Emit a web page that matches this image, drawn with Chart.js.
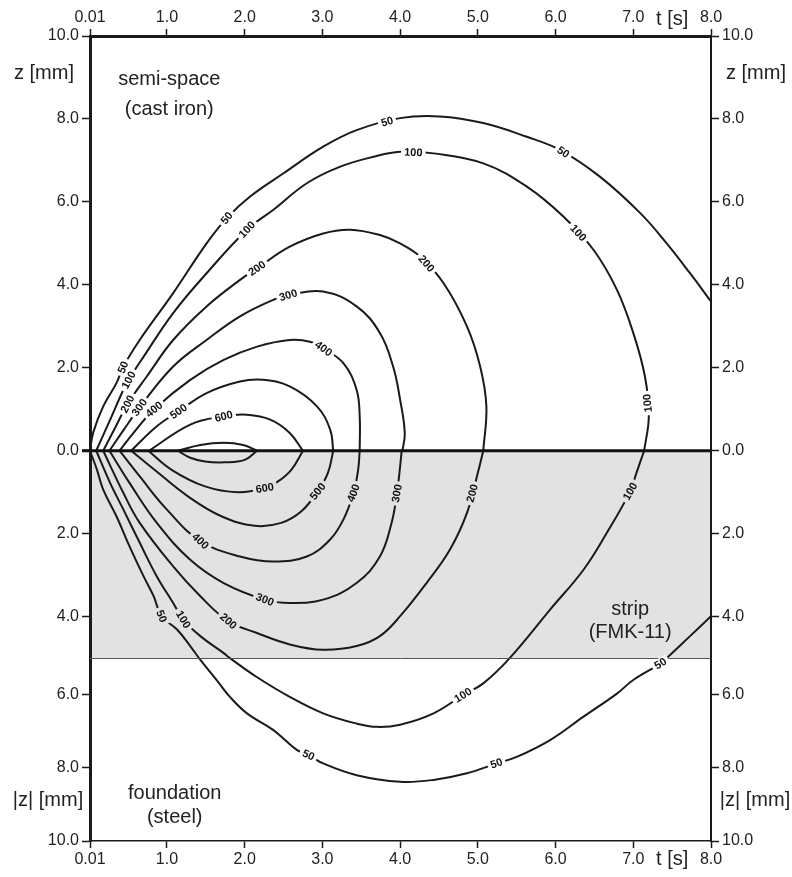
<!DOCTYPE html>
<html>
<head>
<meta charset="utf-8">
<title>Temperature contours</title>
<script src="https://cdn.jsdelivr.net/npm/chart.js@4.4.1/dist/chart.umd.min.js"></script>
<style>
  html, body { margin: 0; padding: 0; background: #fff; }
  #chart { display: block; }
</style>
</head>
<body>
<canvas id="chart" width="792" height="877"></canvas>
<script>
// axis ticks
const tTicks = [0.01, 1, 2, 3, 4, 5, 6, 7, 8];
const zTicks = [10, 8, 6, 4, 2, 0, -2, -4, -6, -8, -10];

// isotherms, [t s, z mm]; z < 0 is inside strip / foundation
const c50Up = [[0.01,0],[0.05,0.43],[0.18,1.07],[0.35,1.63],[0.44,2.03],[0.65,2.67],[1.08,3.80],[1.51,5.00],[1.77,5.61],[2.07,6.13],[2.50,6.69],[3.01,7.33],[3.44,7.73],[4.0,8.02],[4.51,8.06],[5.07,7.90],[5.63,7.57],[6.06,7.25],[6.57,6.61],[7.09,5.73],[7.43,5.00],[7.73,4.28],[8.0,3.60]];
const c100Up = [[0.09,0],[0.27,0.75],[0.44,1.47],[0.52,1.75],[0.70,2.27],[1.08,3.32],[1.51,4.28],[2.03,5.33],[2.37,5.81],[2.80,6.45],[3.23,6.85],[3.66,7.09],[4.0,7.21],[4.43,7.17],[5.07,6.93],[5.63,6.37],[6.10,5.65],[6.49,4.84],[6.79,3.88],[7.00,2.84],[7.15,1.79],[7.20,0.83],[7.14,0]];
const c200Up = [[0.18,0],[0.34,0.58],[0.50,1.15],[0.74,1.79],[1.08,2.67],[1.51,3.48],[1.94,4.12],[2.16,4.40],[2.58,4.92],[3.01,5.24],[3.36,5.33],[3.74,5.20],[4.0,5.0],[4.26,4.68],[4.56,4.04],[4.86,3.0],[5.03,2.03],[5.11,1.07],[5.07,0]];
const c300Up = [[0.26,0],[0.45,0.52],[0.65,1.05],[1.08,2.03],[1.51,2.67],[1.94,3.24],[2.37,3.64],[2.58,3.76],[3.01,3.84],[3.44,3.48],[3.74,2.84],[3.91,2.03],[4.0,1.23],[4.06,0.43],[4.03,0]];
const c400Up = [[0.39,0],[0.57,0.43],[0.83,0.99],[1.30,1.71],[1.73,2.19],[2.16,2.51],[2.58,2.67],[2.84,2.63],[3.01,2.47],[3.27,2.11],[3.44,1.47],[3.48,0.83],[3.48,0]];
const c500Up = [[0.54,0],[0.87,0.59],[1.15,0.95],[1.51,1.39],[1.94,1.67],[2.24,1.71],[2.58,1.55],[2.93,1.07],[3.10,0.51],[3.14,0]];
const c600Up = [[0.77,0],[1.30,0.63],[1.73,0.83],[2.03,0.87],[2.33,0.75],[2.58,0.43],[2.75,0]];
const c700Up = [[1.14,0],[1.43,0.14],[1.73,0.19],[1.98,0.14],[2.16,0]];

const c50Dn = [[0.01,0],[0.10,-0.46],[0.18,-0.94],[0.35,-1.58],[0.52,-2.31],[0.70,-3.03],[0.83,-3.51],[0.93,-3.99],[1.13,-4.31],[1.30,-4.71],[1.43,-5.05],[1.64,-5.60],[1.81,-6.06],[2.03,-6.51],[2.37,-6.97],[2.67,-7.51],[2.82,-7.65],[3.01,-7.88],[3.44,-8.20],[4.0,-8.38],[4.43,-8.33],[4.86,-8.15],[5.24,-7.88],[5.50,-7.70],[5.93,-7.24],[6.36,-6.60],[6.79,-5.97],[7.0,-5.60],[7.35,-5.15],[7.43,-5.0],[7.73,-4.47],[8.0,-3.99]];
const c100Dn = [[0.09,0],[0.27,-0.78],[0.44,-1.42],[0.65,-2.22],[0.87,-3.03],[1.08,-3.67],[1.21,-4.07],[1.43,-4.47],[1.73,-4.88],[1.81,-5.0],[2.15,-5.51],[2.58,-6.06],[3.01,-6.51],[3.44,-6.79],[3.70,-6.88],[4.0,-6.82],[4.43,-6.51],[4.81,-6.01],[5.07,-5.69],[5.41,-5.0],[5.93,-3.83],[6.36,-2.87],[6.66,-1.98],[6.96,-0.98],[7.04,-0.54],[7.14,0]];
const c200Dn = [[0.18,0],[0.44,-1.02],[0.65,-1.74],[1.08,-2.79],[1.43,-3.51],[1.79,-4.11],[2.15,-4.39],[2.58,-4.67],[3.01,-4.80],[3.44,-4.71],[3.74,-4.47],[4.0,-3.99],[4.34,-3.19],[4.64,-2.39],[4.86,-1.50],[5.01,-0.46],[5.07,0]];
const c300Dn = [[0.26,0],[0.52,-0.78],[0.87,-1.74],[1.30,-2.63],[1.73,-3.19],[2.26,-3.59],[2.58,-3.67],[3.01,-3.59],[3.44,-3.19],[3.74,-2.55],[3.89,-1.74],[3.96,-1.02],[4.0,-0.38],[4.02,0]];
const c400Dn = [[0.39,0],[0.65,-0.62],[1.00,-1.42],[1.43,-2.18],[1.94,-2.55],[2.37,-2.67],[2.80,-2.55],[3.10,-2.14],[3.27,-1.66],[3.40,-1.02],[3.46,-0.46],[3.48,0]];
const c500Dn = [[0.54,0],[0.84,-0.46],[1.27,-1.10],[1.70,-1.58],[2.13,-1.81],[2.47,-1.74],[2.73,-1.46],[2.94,-0.98],[3.07,-0.54],[3.14,0]];
const c600Dn = [[0.76,0],[1.06,-0.46],[1.49,-0.86],[1.91,-1.0],[2.26,-0.90],[2.43,-0.74],[2.60,-0.46],[2.75,0]];
const c700Dn = [[1.14,0],[1.30,-0.17],[1.49,-0.26],[1.74,-0.28],[2.0,-0.22],[2.16,0]];

// inline labels: series, t, z, text
const contourLabels = [
  ['c50Up',0.45,2.0,'50'],['c50Up',1.77,5.61,'50'],['c50Up',3.83,7.95,'50'],['c50Up',6.10,7.2,'50'],
  ['c100Up',0.51,1.70,'100'],['c100Up',2.03,5.33,'100'],['c100Up',4.17,7.2,'100'],['c100Up',6.29,5.25,'100'],['c100Up',7.19,1.15,'100'],
  ['c200Up',0.50,1.12,'200'],['c200Up',2.16,4.40,'200'],['c200Up',4.36,4.55,'200'],
  ['c300Up',0.64,1.05,'300'],['c300Up',2.56,3.75,'300'],
  ['c400Up',0.85,0.96,'400'],['c400Up',3.01,2.45,'400'],
  ['c500Up',1.15,0.95,'500'],
  ['c600Up',1.73,0.83,'600'],
  ['c600Dn',2.26,-0.92,'600'],['c500Dn',2.94,-0.98,'500'],
  ['c400Dn',1.43,-2.18,'400'],['c400Dn',3.40,-1.02,'400'],
  ['c300Dn',2.26,-3.59,'300'],['c300Dn',3.93,-1.02,'300'],
  ['c200Dn',1.79,-4.11,'200'],['c200Dn',4.92,-1.02,'200'],
  ['c100Dn',1.21,-4.07,'100'],['c100Dn',4.81,-6.01,'100'],['c100Dn',6.96,-0.98,'100'],
  ['c50Dn',0.93,-3.99,'50'],['c50Dn',2.82,-7.65,'50'],['c50Dn',5.24,-7.88,'50'],['c50Dn',7.35,-5.15,'50']
];

const series = { c50Up, c100Up, c200Up, c300Up, c400Up, c500Up, c600Up, c700Up,
                 c50Dn, c100Dn, c200Dn, c300Dn, c400Dn, c500Dn, c600Dn, c700Dn };
const seriesNames = Object.keys(series);

// foundation (below -5 mm) is drawn on a tighter vertical scale
const STRIP = -5;
const K = 0.882;
function toU(z) { return z >= STRIP ? z : STRIP + (z - STRIP) * K; }
function fromU(u) { return u >= STRIP ? u : STRIP + (u - STRIP) / K; }

const FONT = '"Liberation Sans", Arial, sans-serif';
const INK = '#1a1a1a';

const datasets = seriesNames.map(name => ({
  label: name,
  data: series[name].map(([t, z]) => ({ x: t, y: toU(z) })),
  showLine: true,
  borderColor: INK,
  borderWidth: 2,
  pointRadius: 0,
  tension: 0.4,
  xAxisID: 'x',
  yAxisID: 'y'
}));

function xAxis(pos, borderWidth) {
  return {
    type: 'linear', position: pos, min: 0.01, max: 8,
    afterBuildTicks: s => { s.ticks = tTicks.map(v => ({ value: v })); },
    afterFit: s => { s.height = 36; },
    ticks: {
      autoSkip: false, maxRotation: 0, padding: 2, color: '#222',
      font: { family: FONT, size: 16 },
      callback: v => v === 0.01 ? '0.01' : v.toFixed(1)
    },
    grid: { drawOnChartArea: false, tickLength: 7, tickColor: INK, tickWidth: 1.5 },
    border: { display: true, color: INK, width: borderWidth }
  };
}

function yAxis(pos, width, borderWidth) {
  return {
    type: 'linear', position: pos, min: toU(-10), max: 10,
    afterBuildTicks: s => { s.ticks = zTicks.map(z => ({ value: toU(z) })); },
    afterFit: s => { s.width = width; },
    ticks: {
      autoSkip: false, padding: 3, color: '#222',
      font: { family: FONT, size: 16 },
      callback: v => Math.abs(fromU(v)).toFixed(1)
    },
    grid: { drawOnChartArea: false, tickLength: 8, tickColor: INK, tickWidth: 1.5 },
    border: { display: true, color: INK, width: borderWidth }
  };
}

// grey strip layer, drawn under the axes
const stripPlugin = {
  id: 'strip',
  beforeDraw(chart) {
    const { ctx, chartArea: a, scales: { y } } = chart;
    const y0 = y.getPixelForValue(0), y1 = y.getPixelForValue(toU(STRIP));
    ctx.save();
    ctx.fillStyle = '#e2e2e2';
    ctx.fillRect(a.left, y0, a.right - a.left, y1 - y0);
    ctx.restore();
  },
  afterDatasetsDraw(chart) {
    const { ctx, chartArea: a, scales: { x, y } } = chart;
    ctx.save();
    // strip / foundation interface
    ctx.strokeStyle = '#555';
    ctx.lineWidth = 1;
    const yb = Math.round(y.getPixelForValue(toU(STRIP))) + 0.5;
    ctx.beginPath(); ctx.moveTo(a.left, yb); ctx.lineTo(a.right, yb); ctx.stroke();
    // contact surface
    ctx.strokeStyle = '#111';
    ctx.lineWidth = 3;
    const y0 = y.getPixelForValue(0);
    ctx.beginPath(); ctx.moveTo(a.left - 8, y0); ctx.lineTo(a.right, y0); ctx.stroke();

    // contour labels
    ctx.font = 'bold 11px ' + FONT;
    ctx.textAlign = 'center';
    ctx.textBaseline = 'middle';
    contourLabels.forEach(([name, t, z, text]) => {
      const meta = chart.getDatasetMeta(seriesNames.indexOf(name));
      const px = x.getPixelForValue(t), py = y.getPixelForValue(toU(z));
      let best = null;
      for (let i = 0; i < meta.data.length - 1; i++) {
        const p = meta.data[i], q = meta.data[i + 1];
        const dx = q.x - p.x, dy = q.y - p.y;
        const len2 = dx * dx + dy * dy || 1;
        const s = Math.max(0, Math.min(1, ((px - p.x) * dx + (py - p.y) * dy) / len2));
        const qx = p.x + s * dx, qy = p.y + s * dy;
        const d = (qx - px) ** 2 + (qy - py) ** 2;
        if (!best || d < best.d) best = { d, x: qx, y: qy, ang: Math.atan2(dy, dx) };
      }
      let ang = best.ang;
      if (ang > Math.PI / 2) ang -= Math.PI;
      if (ang < -Math.PI / 2) ang += Math.PI;
      if (ang > 1.35) ang -= Math.PI;
      const inStrip = z < 0 && z > STRIP;
      const w = ctx.measureText(text).width + 6;
      ctx.save();
      ctx.translate(best.x, best.y);
      ctx.rotate(ang);
      ctx.fillStyle = inStrip ? '#e2e2e2' : '#ffffff';
      ctx.fillRect(-w / 2, -5.5, w, 11);
      ctx.fillStyle = '#111';
      ctx.fillText(text, 0, 0.5);
      ctx.restore();
    });

    // region names
    ctx.font = '20px ' + FONT;
    ctx.fillStyle = '#222';
    const put = (txt, t, z) => ctx.fillText(txt, x.getPixelForValue(t), y.getPixelForValue(toU(z)));
    put('semi-space', 1.03, 8.94);
    put('(cast iron)', 1.03, 8.22);
    put('strip', 6.96, -3.83);
    put('(FMK-11)', 6.96, -4.39);
    put('foundation', 1.1, -8.69);
    put('(steel)', 1.1, -9.37);
    ctx.restore();
  },
  afterDraw(chart) {
    const { ctx, chartArea: a, scales: { x, y } } = chart;
    ctx.save();
    ctx.font = '20px ' + FONT;
    ctx.fillStyle = '#222';
    ctx.textBaseline = 'middle';
    ctx.textAlign = 'center';
    const yTop = y.getPixelForValue(9.1), yBot = y.getPixelForValue(toU(-8.9));
    ctx.fillText('z [mm]', 44, yTop);
    ctx.fillText('|z| [mm]', 48, yBot);
    ctx.fillText('z [mm]', a.right + 45, yTop);
    ctx.fillText('|z| [mm]', a.right + 44, yBot);
    const tx = x.getPixelForValue(7.5);
    ctx.fillText('t [s]', tx, a.top - 17);
    ctx.fillText('t [s]', tx, a.bottom + 18);
    ctx.restore();
  }
};

new Chart(document.getElementById('chart'), {
  type: 'scatter',
  data: { datasets },
  options: {
    responsive: false,
    devicePixelRatio: 1,
    animation: false,
    layout: { padding: 0 },
    plugins: { legend: { display: false }, tooltip: { enabled: false } },
    scales: {
      x: xAxis('bottom', 1.5),
      xTop: xAxis('top', 3),
      y: yAxis('left', 90, 3),
      yRight: yAxis('right', 81, 2)
    }
  },
  plugins: [stripPlugin]
});
</script>
</body>
</html>
